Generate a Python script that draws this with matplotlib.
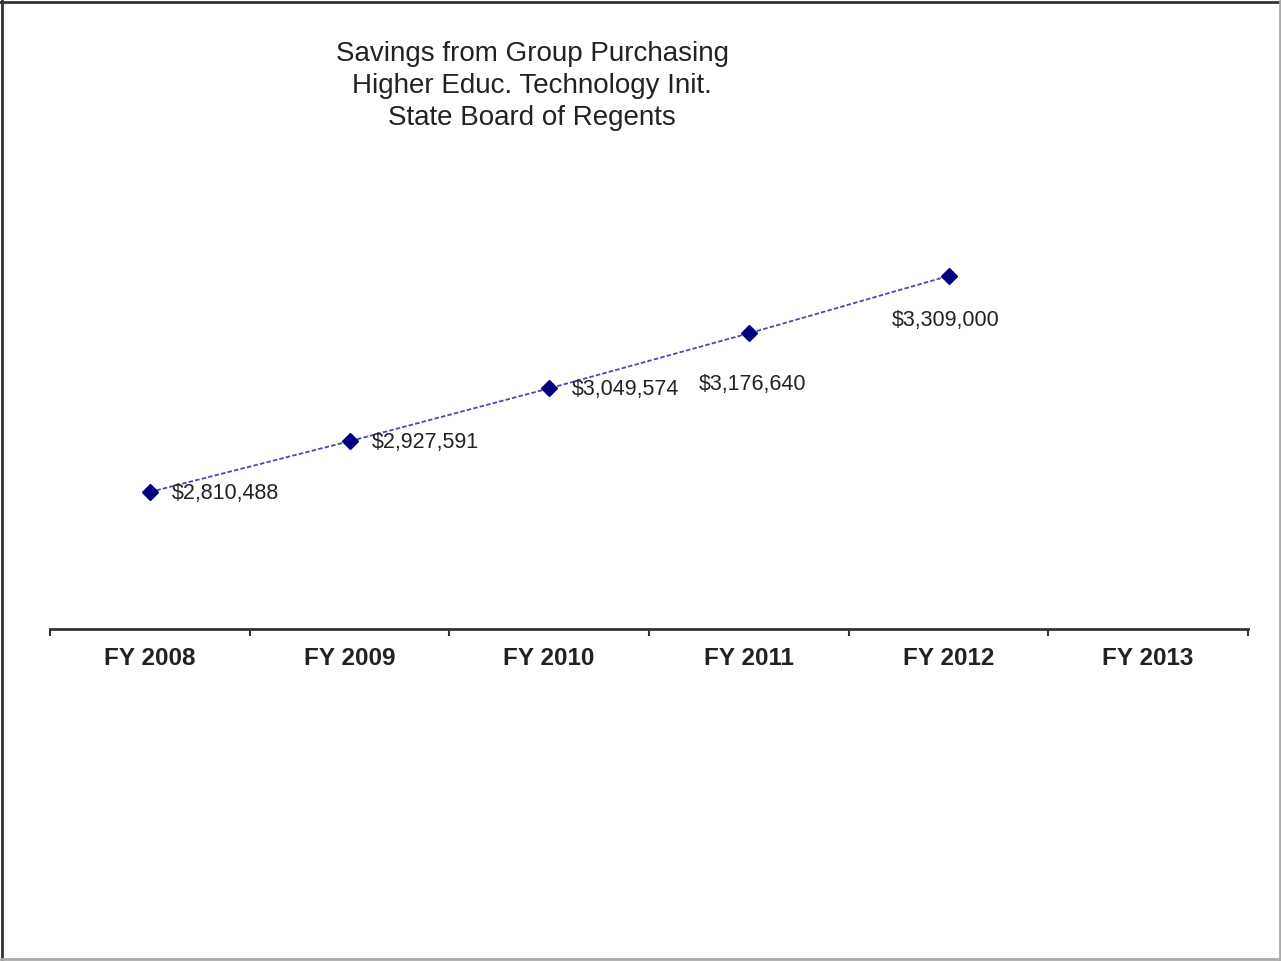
import matplotlib
matplotlib.use("Agg")
import matplotlib.pyplot as plt

plt.rcParams['font.family'] = ['Liberation Sans', 'DejaVu Sans']

years = ["FY 2008", "FY 2009", "FY 2010", "FY 2011", "FY 2012", "FY 2013"]
savings = [2810488, 2927591, 3049574, 3176640, 3309000]
labels = ["$2,810,488", "$2,927,591", "$3,049,574", "$3,176,640", "$3,309,000"]
# label offsets in points (dx, dy) relative to each marker
offsets = [(16, -1), (16, -1), (16, -1), (3, -37), (-2, -32)]
aligns = ["left", "left", "left", "center", "center"]

fig = plt.figure(figsize=(12.81, 9.61), dpi=100)
ax = fig.add_axes([50 / 1281, 1 - 629 / 961, 1198 / 1281, 436 / 961])

x = list(range(len(savings)))
ax.plot(x, savings, linestyle=(0, (2.5, 1.2)), color="#4a4aa8", linewidth=1.3, zorder=2)
ax.plot(x, savings, linestyle="none", marker="D", markersize=8,
        color="#000080", zorder=3)

for xi, v, lab, off, ha in zip(x, savings, labels, offsets, aligns):
    ax.annotate(lab, (xi, v), xytext=off, textcoords="offset points",
                ha=ha, va="center", fontsize=15.5, color="#222222")

ax.set_xlim(-0.5, 5.5)
ax.set_ylim(2494300, 3500500)
ax.set_xticks([i + 0.5 for i in range(-1, 6)])
ax.set_xticklabels([])
ax.set_xticks(range(6), minor=True)
ax.set_xticklabels(years, minor=True, fontsize=17.5, fontweight="bold", color="#222222")
ax.tick_params(axis="x", which="major", direction="out", length=5, width=1.5, color="#333333")
ax.tick_params(axis="x", which="minor", length=0, pad=13)
ax.set_yticks([])
for s in ["top", "right", "left"]:
    ax.spines[s].set_visible(False)
ax.spines["bottom"].set_linewidth(2)
ax.spines["bottom"].set_color("#333333")

fig.text(532 / 1281, 1 - 86 / 961,
         "Savings from Group Purchasing\nHigher Educ. Technology Init.\nState Board of Regents",
         ha="center", va="center", fontsize=20, linespacing=1.28, color="#222222")

# outer frame: dark on left/top, grey on right/bottom
fig.add_artist(plt.Line2D([0.0015, 0.0015], [0, 1], color="#333333", linewidth=2, transform=fig.transFigure))
fig.add_artist(plt.Line2D([0, 1], [0.998, 0.998], color="#333333", linewidth=2, transform=fig.transFigure))
fig.add_artist(plt.Line2D([0.999, 0.999], [0, 1], color="#aaaaaa", linewidth=2, transform=fig.transFigure))
fig.add_artist(plt.Line2D([0, 1], [0.002, 0.002], color="#aaaaaa", linewidth=2, transform=fig.transFigure))

fig.savefig("out.png", dpi=100)
